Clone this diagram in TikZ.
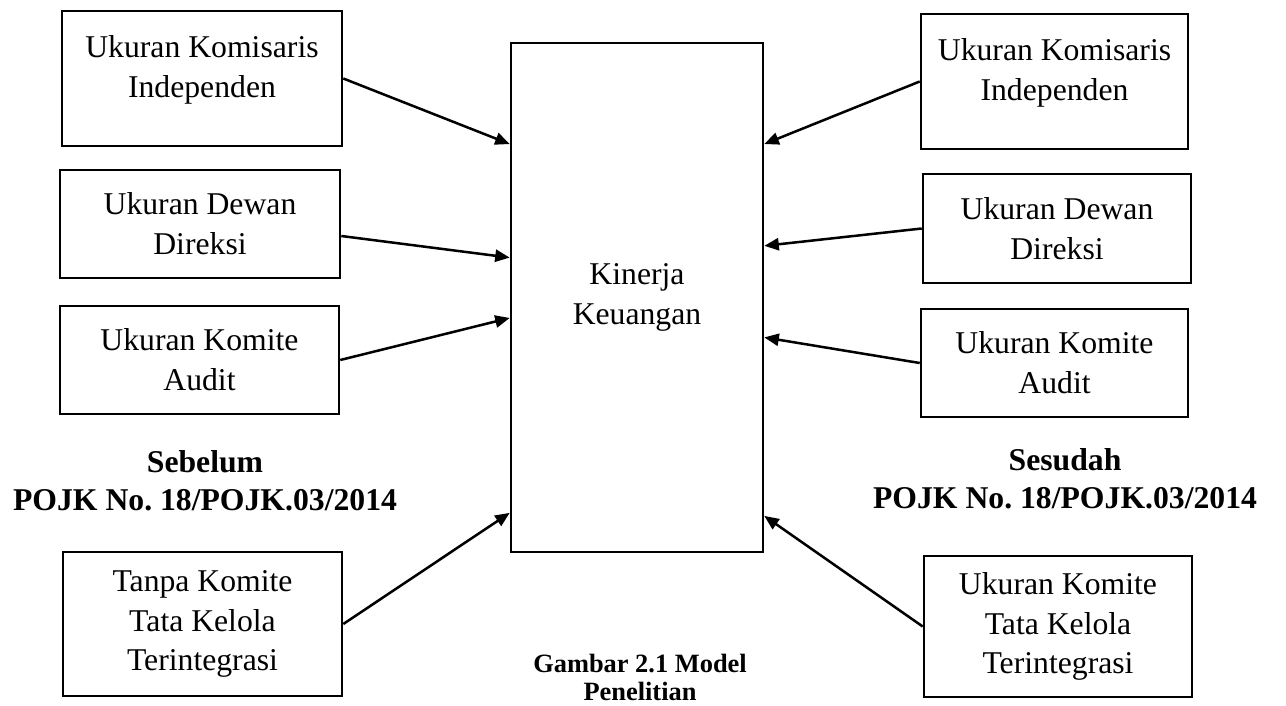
\documentclass[tikz,border=0pt]{standalone}
\usepackage{fontspec}
\setmainfont{Liberation Serif}
\usetikzlibrary{arrows.meta,calc}

\newcommand{\pxu}{0.3785pt}

\begin{document}
\begin{tikzpicture}[x=0.013305cm, y=-0.013305cm,
    kotak/.style={draw, line width=1pt, inner sep=0pt, align=center,
      font=\fontsize{12}{15.1}\selectfont},
    panah/.style={-{Triangle[length=5.5pt,width=4.6pt]}, line width=0.95pt},
    judul/.style={align=center, font=\fontsize{12}{14.4}\selectfont\bfseries}]
  \useasboundingbox (0,0) rectangle (1286,706);

  % Mitte
  \node[kotak, minimum width=252*\pxu, minimum height=509*\pxu] (kk) at (637,297.5) {Kinerja\\Keuangan};

  % links
  \node[kotak, minimum width=280*\pxu, minimum height=135*\pxu] (l1) at (202,78.5) {Ukuran Komisaris\\Independen\\[-0.5em]};
  \node[kotak, minimum width=280*\pxu, minimum height=108*\pxu] (l2) at (200,224) {Ukuran Dewan\\Direksi};
  \node[kotak, minimum width=279*\pxu, minimum height=108*\pxu] (l3) at (199.5,360) {Ukuran Komite\\Audit};
  \node[kotak, minimum width=279*\pxu, minimum height=144*\pxu] (l4) at (202.5,624) {Tanpa Komite\\Tata Kelola\\Terintegrasi};
  \node[judul] (sebelum) at (205,481) {Sebelum\\POJK No.\ 18/POJK.03/2014};

  % rechts
  \node[kotak, minimum width=267*\pxu, minimum height=135*\pxu] (r1) at (1054.5,81.5) {Ukuran Komisaris\\Independen\\[-0.5em]};
  \node[kotak, minimum width=268*\pxu, minimum height=109*\pxu] (r2) at (1057,228.5) {Ukuran Dewan\\Direksi};
  \node[kotak, minimum width=267*\pxu, minimum height=108*\pxu] (r3) at (1054.5,363) {Ukuran Komite\\Audit};
  \node[kotak, minimum width=268*\pxu, minimum height=141*\pxu] (r4) at (1058,626.5) {Ukuran Komite\\Tata Kelola\\Terintegrasi};
  \node[judul] (sesudah) at (1065,479) {Sesudah\\POJK No.\ 18/POJK.03/2014};

  \node[align=center, font=\fontsize{10}{10.6}\selectfont\bfseries] (gambar) at (640,677) {Gambar 2.1 Model\\Penelitian};

  \draw[panah] (l1.east) -- ($(kk.north west)!0.2!(kk.south west)$);
  \draw[panah] ([yshift=-12*\pxu]l2.east) -- ($(kk.north west)!0.422!(kk.south west)$);
  \draw[panah] (l3.east) -- ($(kk.north west)!0.54!(kk.south west)$);
  \draw[panah] (l4.east) -- ($(kk.north west)!0.921!(kk.south west)$);

  \draw[panah] (r1.west) -- ($(kk.north east)!0.2!(kk.south east)$);
  \draw[panah] (r2.west) -- ($(kk.north east)!0.399!(kk.south east)$);
  \draw[panah] (r3.west) -- ($(kk.north east)!0.578!(kk.south east)$);
  \draw[panah] (r4.west) -- ($(kk.north east)!0.927!(kk.south east)$);

\end{tikzpicture}
\end{document}
